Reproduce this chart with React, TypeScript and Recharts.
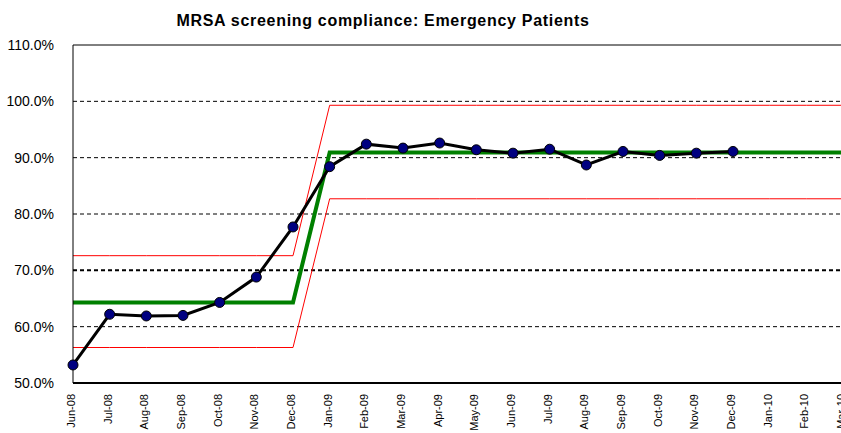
import { LineChart, Line, XAxis, YAxis, ReferenceLine } from 'recharts';

const months = [
  'Jun-08', 'Jul-08', 'Aug-08', 'Sep-08', 'Oct-08', 'Nov-08', 'Dec-08',
  'Jan-09', 'Feb-09', 'Mar-09', 'Apr-09', 'May-09', 'Jun-09', 'Jul-09',
  'Aug-09', 'Sep-09', 'Oct-09', 'Nov-09', 'Dec-09', 'Jan-10', 'Feb-10', 'Mar-10',
];

// monthly compliance (%), no data from Jan-10 on
const compliance = [
  53.2, 62.2, 61.9, 62.0, 64.3, 68.8, 77.7,
  88.4, 92.4, 91.7, 92.6, 91.4, 90.8, 91.5,
  88.7, 91.1, 90.4, 90.8, 91.1, null, null, null,
];

// process mean and control limits, two phases
const mean = [64.3, 64.3, 64.3, 64.3, 64.3, 64.3, 64.3, 90.9, 90.9, 90.9, 90.9, 90.9, 90.9, 90.9, 90.9, 90.9, 90.9, 90.9, 90.9, 90.9, 90.9, 90.9];
const upperLimit = [72.6, 72.6, 72.6, 72.6, 72.6, 72.6, 72.6, 99.3, 99.3, 99.3, 99.3, 99.3, 99.3, 99.3, 99.3, 99.3, 99.3, 99.3, 99.3, 99.3, 99.3, 99.3];
const lowerLimit = [56.3, 56.3, 56.3, 56.3, 56.3, 56.3, 56.3, 82.7, 82.7, 82.7, 82.7, 82.7, 82.7, 82.7, 82.7, 82.7, 82.7, 82.7, 82.7, 82.7, 82.7, 82.7];

const yTicks = [50, 60, 70, 80, 90, 100, 110];
const gridLevels = [60, 80, 90, 100];
const targetLevel = 70;

const data = months.map((month, i) => ({
  month,
  value: compliance[i],
  mean: mean[i],
  ucl: upperLimit[i],
  lcl: lowerLimit[i],
}));

const FONT = '"Liberation Sans", Arial, sans-serif';

const MonthTick = ({ x, y, payload }: { x?: number; y?: number; payload?: { value: string } }) => (
  <g transform={`translate(${(x ?? 0) - 2},${(y ?? 0) + 3})`}>
    <text transform="rotate(-90)" textAnchor="end" dy="0.35em" fontSize={11} fontFamily={FONT} fill="#000">
      {payload?.value}
    </text>
  </g>
);

export default function App() {
  return (
    <div style={{ position: 'absolute', left: 0, top: 0, width: 841, height: 433, overflow: 'hidden', background: '#fff' }}>
      <svg width={841} height={40} style={{ position: 'absolute', left: 0, top: 0 }}>
        <text x={383} y={26} textAnchor="middle" fontSize={16} fontWeight="bold" fontFamily={FONT} letterSpacing={0.7}>
          MRSA screening compliance: Emergency Patients
        </text>
      </svg>
      <LineChart
        width={850}
        height={433}
        data={data}
        margin={{ top: 45, right: 7, bottom: 0, left: 0 }}
      >
        <XAxis
          dataKey="month"
          interval={0}
          height={50}
          tick={<MonthTick />}
          tickLine={false}
          axisLine={{ stroke: '#000', strokeWidth: 2 }}
        />
        <YAxis
          domain={[50, 110]}
          ticks={yTicks}
          width={73}
          tickLine={false}
          tickMargin={13}
          axisLine={{ stroke: '#000', strokeWidth: 1 }}
          tick={{ fill: '#000', fontSize: 14, fontFamily: FONT }}
          tickFormatter={(v: number) => `${v.toFixed(1)}%`}
        />
        <ReferenceLine y={110} stroke="#000" strokeWidth={1} />
        {gridLevels.map((level) => (
          <ReferenceLine key={level} y={level} stroke="#000" strokeWidth={1} strokeDasharray="4 3" />
        ))}
        <ReferenceLine y={targetLevel} stroke="#000" strokeWidth={2} strokeDasharray="4 3" />
        <Line dataKey="ucl" stroke="#ff0000" strokeWidth={1} dot={false} isAnimationActive={false} />
        <Line dataKey="lcl" stroke="#ff0000" strokeWidth={1} dot={false} isAnimationActive={false} />
        <Line dataKey="mean" stroke="#008000" strokeWidth={4} dot={false} isAnimationActive={false} />
        <Line
          dataKey="value"
          stroke="#000"
          strokeWidth={3}
          dot={{ r: 5, fill: '#000080', stroke: '#000', strokeWidth: 1 }}
          isAnimationActive={false}
        />
      </LineChart>
    </div>
  );
}
